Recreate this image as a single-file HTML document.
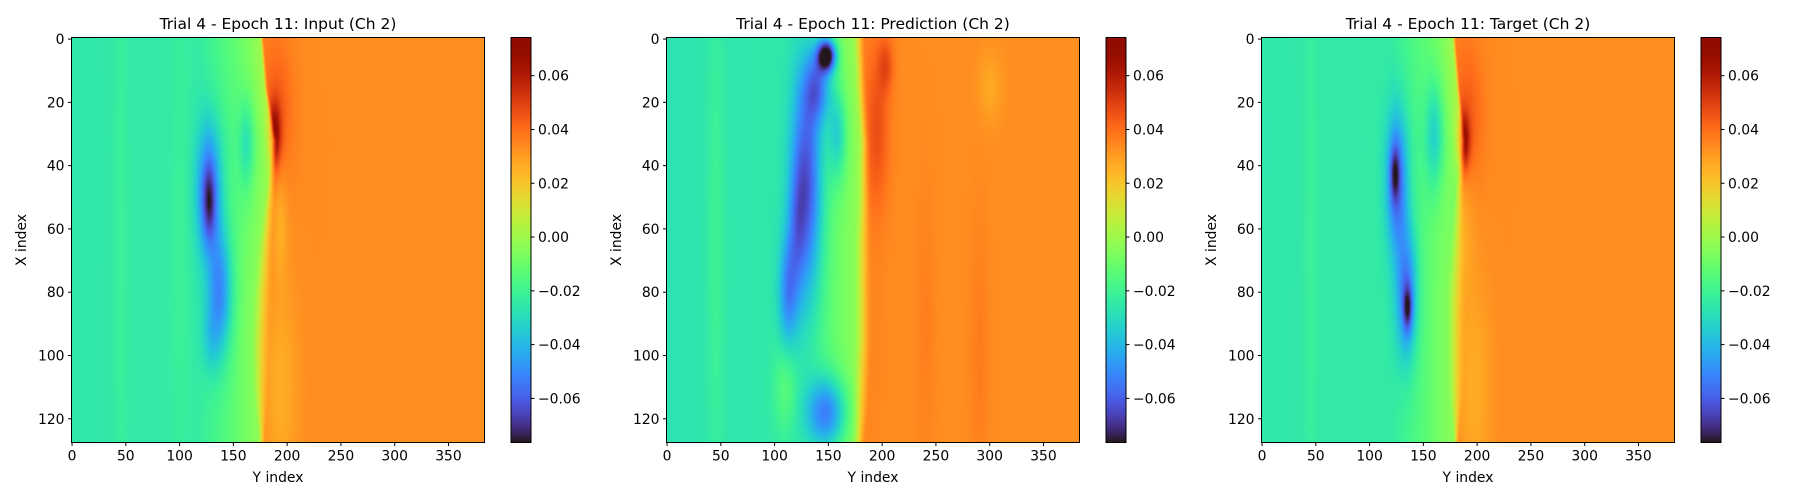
<!DOCTYPE html>
<html><head><meta charset="utf-8"><style>
body{margin:0;background:#fff;width:1800px;height:500px;overflow:hidden;position:relative;font-family:"DejaVu Sans","Liberation Sans",sans-serif}
canvas{position:absolute}
svg{position:absolute;left:0;top:0}
</style></head><body>
<canvas id="c0" width="384" height="128" style="left:71.5px;top:37.5px;width:413px;height:405px"></canvas>
<canvas id="c1" width="384" height="128" style="left:666.5px;top:37.5px;width:413px;height:405px"></canvas>
<canvas id="c2" width="384" height="128" style="left:1261.5px;top:37.5px;width:413px;height:405px"></canvas>
<canvas id="b0" width="1" height="256" style="left:511px;top:37.5px;width:20px;height:405px"></canvas>
<canvas id="b1" width="1" height="256" style="left:1106px;top:37.5px;width:20px;height:405px"></canvas>
<canvas id="b2" width="1" height="256" style="left:1701px;top:37.5px;width:20px;height:405px"></canvas>
<svg id="ov" width="1800" height="500"></svg>
<script>
const vmin=-0.0764, vmax=0.0742;
const titles=["Trial 4 - Epoch 11: Input (Ch 2)","Trial 4 - Epoch 11: Prediction (Ch 2)","Trial 4 - Epoch 11: Target (Ch 2)"];
const xTicks=[0,50,100,150,200,250,300,350];
const yTicks=[0,20,40,60,80,100,120];
const cbTicks=[0.06,0.04,0.02,0.00,-0.02,-0.04,-0.06];
const cbLabels=["0.06","0.04","0.02","0.00","\u22120.02","\u22120.04","\u22120.06"];
const frontRows=[0,16,32,48,64,80,96,112,128];
const inputFront=[176,180,188,184,180,177,175,175,176];
const predFront=[178,180,183,183,182,182,182,180,178];
const targetFront=[178,182,187,183,181,180,180,180,180];
const inputWidth=[2,2,3,5,8,10,10,8,3];
const predWidth=[6,6,6,7,9,9,9,9,6];
const targetWidth=[2,2,3,5,8,10,10,8,2];
const leftD=[-400,-60,-25,0];
const inputLeftV=[-0.029,-0.024,-0.012,0.0];
const predLeftV=[-0.031,-0.025,-0.01,0.0];
const targetLeftV=[-0.029,-0.024,-0.012,0.0];
const rightD=[0,25,400];
const rightV=[0.036,0.034,0.032];
const inputBlobs=[[48,127,14,8,-0.035],[80,137,14,8,-0.033],[52,127,8,4,-0.018],[30,188,7,4,0.03],[20,192,15,10,0.008],[33,162,10,5,-0.015],[58,193,12,5,-0.008],[110,192,25,12,-0.008],[64,45,60,5,0.004],[64,100,60,6,0.003],[95,128,8,6,-0.01]];
const predBlobs=[[5,148,3.5,6,-0.07],[15,140,8,9,-0.032],[45,130,25,10,-0.04],[80,112,12,6,-0.025],[118,148,8,13,-0.04],[30,158,10,6,-0.022],[28,195,18,8,0.012],[8,203,6,5,0.012],[64,45,60,6,0.006],[110,110,10,8,0.012],[100,290,30,6,0.004],[90,240,30,6,0.003],[15,300,8,8,-0.006],[60,120,15,6,-0.015]];
const targetBlobs=[[45,125,15,7,-0.035],[80,134,15,7,-0.035],[42,123,6,3,-0.022],[85,135,5,3,-0.028],[32,187,6,4,0.032],[22,192,15,10,0.008],[30,160,12,6,-0.02],[60,185,15,8,-0.008],[110,195,25,12,-0.008],[64,45,60,5,0.004]];
const panels=[[inputFront,inputWidth,inputLeftV,inputBlobs],[predFront,predWidth,predLeftV,predBlobs],[targetFront,targetWidth,targetLeftV,targetBlobs]];

function turbo(x){x=Math.max(0,Math.min(1,x));
const r=0.13572138+x*(4.6153926+x*(-42.66032258+x*(132.13108234+x*(-152.94239396+x*59.28637943))));
const g=0.09140261+x*(2.19418839+x*(4.84296658+x*(-14.18503333+x*(4.27729857+x*2.82956604))));
const b=0.1066733+x*(12.64194608+x*(-60.58204836+x*(110.36276771+x*(-89.90310912+x*27.34824973))));
return [r,g,b].map(v=>Math.round(255*Math.max(0,Math.min(1,v))));}
function interp(xs,ys,x){if(x<=xs[0])return ys[0];for(let i=1;i<xs.length;i++){if(x<=xs[i]){const t=(x-xs[i-1])/(xs[i]-xs[i-1]);return ys[i-1]+t*(ys[i]-ys[i-1]);}}return ys[ys.length-1];}
function ss(e0,e1,x){let t=(x-e0)/(e1-e0);t=Math.max(0,Math.min(1,t));return t*t*(3-2*t);}

panels.forEach((p,k)=>{
  const [front,width,lv,blobs]=p;
  const cv=document.getElementById('c'+k),ctx=cv.getContext('2d');
  const img=ctx.createImageData(384,128);
  for(let r=0;r<128;r++){
    const f=interp(frontRows,front,r),w=interp(frontRows,width,r);
    for(let c=0;c<384;c++){
      const d=c-f;
      const t=ss(-w,w,d);
      let v=(1-t)*interp(leftD,lv,Math.min(d,0))+t*interp(rightD,rightV,Math.max(d,0));
      for(const b of blobs){const dr=(r-b[0])/b[2],dc=(c-b[1])/b[3];const e=dr*dr+dc*dc;if(e<12)v+=b[4]*Math.exp(-0.5*e);}
      const col=turbo((v-vmin)/(vmax-vmin));const i=(r*384+c)*4;
      img.data[i]=col[0];img.data[i+1]=col[1];img.data[i+2]=col[2];img.data[i+3]=255;
    }
  }
  ctx.putImageData(img,0,0);
  const bc=document.getElementById('b'+k).getContext('2d');
  for(let i=0;i<256;i++){const col=turbo(1-i/255);bc.fillStyle=`rgb(${col[0]},${col[1]},${col[2]})`;bc.fillRect(0,i,1,1);}
});

const NS='http://www.w3.org/2000/svg',ov=document.getElementById('ov');
function mk(tag,at,txt){const e=document.createElementNS(NS,tag);for(const a in at)e.setAttribute(a,at[a]);if(txt!==undefined)e.textContent=txt;ov.appendChild(e);return e;}
const PL=71.5,PT=37.5,PW=413,PH=405,CBX=511,CBW=20;
function xs(v){return PL+(v+0.5)*PW/384;}
function ys(v){return PT+(v+0.5)*PH/128;}
function cy(v){return PT+(vmax-v)/(vmax-vmin)*PH;}
titles.forEach((t,k)=>{
  const dx=k*595;
  const ti=mk('text',{x:dx+PL+PW/2,y:29,'text-anchor':'middle','font-size':'15.5'},t);
  
  
  const fr=mk('rect',{x:dx+PL,y:PT,width:PW,height:PH,fill:'none',stroke:'#000','stroke-width':1});
  
  
  const cf=mk('rect',{x:dx+CBX,y:PT,width:CBW,height:PH,fill:'none',stroke:'#000','stroke-width':1});
  
  
  xTicks.forEach(v=>{const x=dx+xs(v);
    mk('line',{x1:x,x2:x,y1:PT+PH,y2:PT+PH+3.5,stroke:'#000'});
    const l=mk('text',{x:x,y:PT+PH+18,'text-anchor':'middle','font-size':'13.9'},String(v));
    
    });
  yTicks.forEach(v=>{const y=ys(v);
    mk('line',{x1:dx+PL-3.5,x2:dx+PL,y1:y,y2:y,stroke:'#000'});
    const l=mk('text',{x:dx+PL-7,y:y+5,'text-anchor':'end','font-size':'13.9'},String(v));
    
    });
  cbTicks.forEach((v,i)=>{const y=cy(v);
    mk('line',{x1:dx+CBX+CBW,x2:dx+CBX+CBW+3.5,y1:y,y2:y,stroke:'#000'});
    const l=mk('text',{x:dx+CBX+CBW+7,y:y+5,'font-size':'13.9'},cbLabels[i]);
    
    });
  const xl=mk('text',{x:dx+PL+PW/2,y:482,'text-anchor':'middle','font-size':'13.9'},'Y index');
  
  
  const yl=mk('text',{x:0,y:0,'text-anchor':'middle','font-size':'13.9',transform:`translate(${dx+26},240) rotate(-90)`},'X index');
  
  
});
</script>
</body></html>
